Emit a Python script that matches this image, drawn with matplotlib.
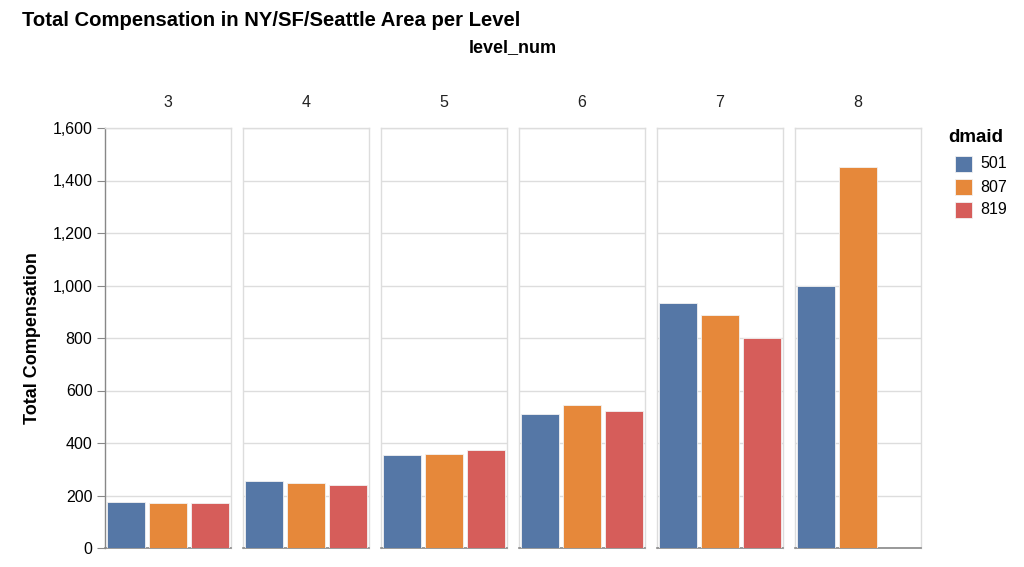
import matplotlib
matplotlib.use("Agg")
import matplotlib.pyplot as plt
import numpy as np

plt.rcParams['font.family'] = ['Liberation Sans', 'DejaVu Sans']

levels = ["3", "4", "5", "6", "7", "8"]
dmaids = ["501", "807", "819"]
vals_501 = [177, 255, 356, 512, 932, 1000]
vals_807 = [170, 249, 360, 546, 886, 1452]
vals_819 = [170, 239, 372, 522, 800, None]
colors = ["#5577a6", "#e6883a", "#d65d5a"]
yticks = [0, 200, 400, 600, 800, 1000, 1200, 1400, 1600]

W, H = 1024, 567
fig = plt.figure(figsize=(W / 100, H / 100), dpi=100)

panel_left0 = 105
panel_w = 126
panel_gap = 12
panel_top = 128
panel_bottom = 548

series = [vals_501, vals_807, vals_819]
for i, lev in enumerate(levels):
    x0 = panel_left0 + i * (panel_w + panel_gap)
    ax = fig.add_axes([x0 / W, (H - panel_bottom) / H, panel_w / W, (panel_bottom - panel_top) / H])
    for j, s in enumerate(series):
        v = s[i]
        if v is None:
            continue
        ax.bar(j, v, width=0.9, color=colors[j], edgecolor="#f2f2f2", linewidth=0.6, zorder=3)
    ax.set_xlim(-0.5, 2.5)
    ax.set_ylim(0, 1600)
    ax.set_yticks(yticks)
    ax.grid(axis='y', color="#dddddd", linewidth=1, zorder=0)
    ax.set_xticks([])
    for side in ['top', 'right', 'left']:
        ax.spines[side].set_color("#dddddd")
        ax.spines[side].set_linewidth(1)
    ax.spines['bottom'].set_color("#888888")
    ax.spines['bottom'].set_linewidth(1.2)
    ax.set_title(lev, fontsize=11.5, pad=15, color="#222222")
    if i == 0:
        ax.spines['left'].set_color("#888888")
        ax.set_yticklabels([f"{t:,}" for t in yticks], fontsize=11.5)
        ax.tick_params(axis='y', length=6, color="#888888", pad=3)
    else:
        ax.tick_params(axis='y', length=0, labelleft=False)

fig.text(33 / W, 1 - 338 / H, "Total Compensation", fontsize=13, fontweight='bold',
         rotation=90, ha='center', va='center')
fig.text(22 / W, 1 - 20 / H, "Total Compensation in NY/SF/Seattle Area per Level",
         fontsize=14.6, fontweight='bold', ha='left', va='center')
fig.text(513 / W, 1 - 48 / H, "level_num", fontsize=13, fontweight='bold', ha='center', va='center')

# legend
fig.text(948 / W, 1 - 138 / H, "dmaid", fontsize=13.5, fontweight='bold', ha='left', va='center')
for k, (d, c) in enumerate(zip(dmaids, colors)):
    yc = 164 + k * 23
    fig.patches.append(matplotlib.patches.Rectangle((955 / W, 1 - (yc + 8) / H), 17 / W, 16 / H,
                                                    transform=fig.transFigure, facecolor=c,
                                                    edgecolor="#f2f2f2", linewidth=0.6))
    fig.text(980 / W, 1 - yc / H, d, fontsize=11.5, ha='left', va='center')

fig.savefig("out.png", dpi=100)
